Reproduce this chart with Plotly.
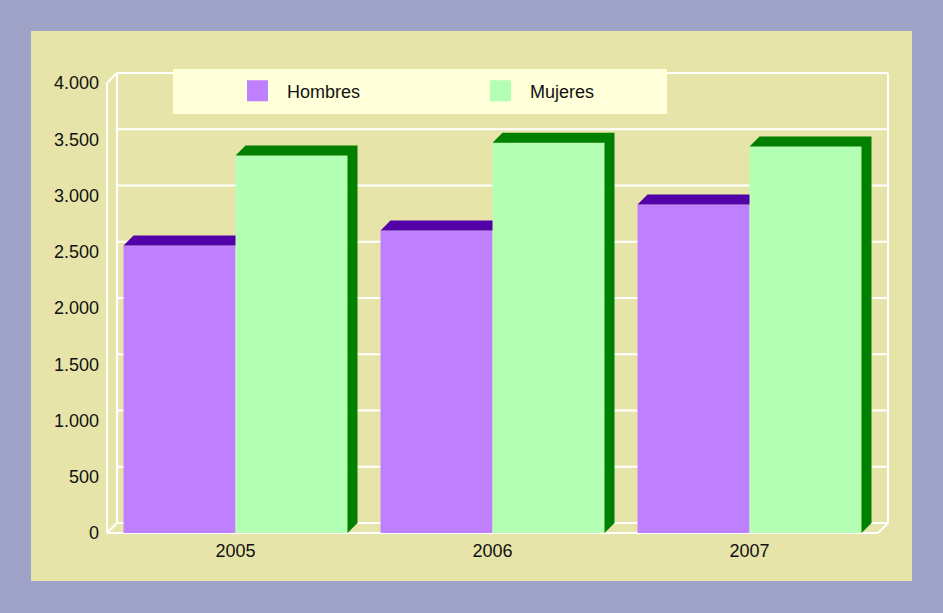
import plotly.graph_objects as go

# ---------------- data ----------------
categories = ["2005", "2006", "2007"]
series_names = ["Hombres", "Mujeres"]
hombres = [2555, 2690, 2920]
mujeres = [3355, 3470, 3435]
y_tickvals = [0, 500, 1000, 1500, 2000, 2500, 3000, 3500, 4000]
y_ticktext = ["0", "500", "1.000", "1.500", "2.000", "2.500", "3.000", "3.500", "4.000"]

# ---------------- style ----------------
FRONT = ["#BF80FF", "#B3FFB3"]
DARK = ["#5200A8", "#008000"]
OUTER_BG = "#9EA2C6"
PANEL_BG = "#E6E4A8"
LEGEND_BG = "#FFFFDA"
GRID = "#FFFFFF"
FONT = "Liberation Sans, Arial, sans-serif"
TXT = "#111111"

W, H = 943, 613
PX_CAT = 257.0      # pixels per category
PX_UNIT = 0.1125    # pixels per value unit
DEPTH = 10          # 3D depth in pixels
DX = DEPTH / PX_CAT
DY = DEPTH / PX_UNIT
BAR_W = 112 / PX_CAT
ML, MR, MT, MB = 103, 52, 70, 76
plot_w = W - ML - MR
plot_h = H - MT - MB
x_lo = -0.5 - 4 / PX_CAT
x_hi = x_lo + plot_w / PX_CAT
y_lo = -4 / PX_UNIT
y_hi = y_lo + plot_h / PX_UNIT


def px_to_paper_x(px):
    return (px - ML) / plot_w


def px_to_paper_y(py):
    return (H - MB - py) / plot_h


xs = list(range(len(categories)))
x_left = -0.5
x_right = len(categories) - 0.5
y_top = y_tickvals[-1]

fig = go.Figure()

# front faces
fig.add_trace(go.Bar(x=xs, y=hombres, width=BAR_W, offset=-BAR_W, name=series_names[0],
                     marker=dict(color=FRONT[0], line=dict(width=0)),
                     showlegend=False, hoverinfo="skip"))
fig.add_trace(go.Bar(x=xs, y=mujeres, width=BAR_W, offset=0, name=series_names[1],
                     marker=dict(color=FRONT[1], line=dict(width=0)),
                     showlegend=False, hoverinfo="skip"))

# 3D top faces of Hombres (the part behind Mujeres is hidden)
hx, hy = [], []
for i, v in zip(xs, hombres):
    x0, x1 = i - BAR_W, i
    hx += [x0, x0 + DX, x1, x1, x0, None]
    hy += [v, v + DY, v + DY, v, v, None]
fig.add_trace(go.Scatter(x=hx, y=hy, mode="lines", fill="toself", fillcolor=DARK[0],
                         line=dict(width=0, color=DARK[0]), showlegend=False, hoverinfo="skip"))

# 3D top + side faces of Mujeres
mx, my = [], []
for i, v in zip(xs, mujeres):
    x0, x1 = i, i + BAR_W
    mx += [x0, x0 + DX, x1 + DX, x1, x0, None]
    my += [v, v + DY, v + DY, v, v, None]
    mx += [x1, x1 + DX, x1 + DX, x1, x1, None]
    my += [0, DY, v + DY, v, 0, None]
fig.add_trace(go.Scatter(x=mx, y=my, mode="lines", fill="toself", fillcolor=DARK[1],
                         line=dict(width=0, color=DARK[1]), showlegend=False, hoverinfo="skip"))

# legend entries
for name, col in zip(series_names, FRONT):
    fig.add_trace(go.Scatter(x=[None], y=[None], mode="markers", name=name,
                             marker=dict(symbol="square", size=16, color=col,
                                         line=dict(width=5, color=col)),
                             hoverinfo="skip"))

shapes = []
# panel
shapes.append(dict(type="rect", xref="paper", yref="paper", layer="below",
                   x0=px_to_paper_x(31), x1=px_to_paper_x(912),
                   y0=px_to_paper_y(581), y1=px_to_paper_y(31),
                   fillcolor=PANEL_BG, line=dict(width=0)))
line_style = dict(color=GRID, width=2)
# back-wall gridlines
for v in y_tickvals:
    shapes.append(dict(type="line", xref="x", yref="y", layer="below",
                       x0=x_left + DX, x1=x_right + DX, y0=v + DY, y1=v + DY, line=line_style))
# frame
frame = [
    (x_left + DX, DY, x_left + DX, y_top + DY),
    (x_right + DX, DY, x_right + DX, y_top + DY),
    (x_left, 0, x_left, y_top),
    (x_left, y_top, x_left + DX, y_top + DY),
    (x_left, 0, x_left + DX, DY),
    (x_right, 0, x_right + DX, DY),
    (x_left, 0, x_right, 0),
]
for a, b, c, d in frame:
    shapes.append(dict(type="line", xref="x", yref="y", layer="below",
                       x0=a, y0=b, x1=c, y1=d, line=line_style))
# legend box
shapes.append(dict(type="rect", xref="paper", yref="paper", layer="above",
                   x0=px_to_paper_x(173), x1=px_to_paper_x(667),
                   y0=px_to_paper_y(114), y1=px_to_paper_y(69),
                   fillcolor=LEGEND_BG, line=dict(width=0)))

fig.update_layout(
    width=W, height=H,
    margin=dict(l=ML, r=MR, t=MT, b=MB, pad=0),
    paper_bgcolor=OUTER_BG,
    plot_bgcolor="rgba(0,0,0,0)",
    barmode="overlay",
    font=dict(family=FONT, size=18, color=TXT),
    shapes=shapes,
    showlegend=True,
    legend=dict(orientation="h", x=px_to_paper_x(228), y=px_to_paper_y(72.5),
                xanchor="left", yanchor="top", bgcolor="rgba(0,0,0,0)",
                itemwidth=49, entrywidth=179, entrywidthmode="pixels",
                font=dict(family=FONT, size=18, color=TXT), itemclick=False,
                itemdoubleclick=False),
    xaxis=dict(range=[x_lo, x_hi], tickvals=xs, ticktext=categories,
               showgrid=False, zeroline=False, showline=False, ticks="",
               ticklabelstandoff=1, fixedrange=True),
    yaxis=dict(range=[y_lo, y_hi], tickvals=y_tickvals, ticktext=y_ticktext,
               showgrid=False, zeroline=False, showline=False, ticks="",
               ticklabelstandoff=3, fixedrange=True),
)

fig.write_html("out.html",
               config={"displayModeBar": False, "staticPlot": False},
               post_script="document.body.style.margin='0';"
                           "document.body.style.background='" + OUTER_BG + "';")
